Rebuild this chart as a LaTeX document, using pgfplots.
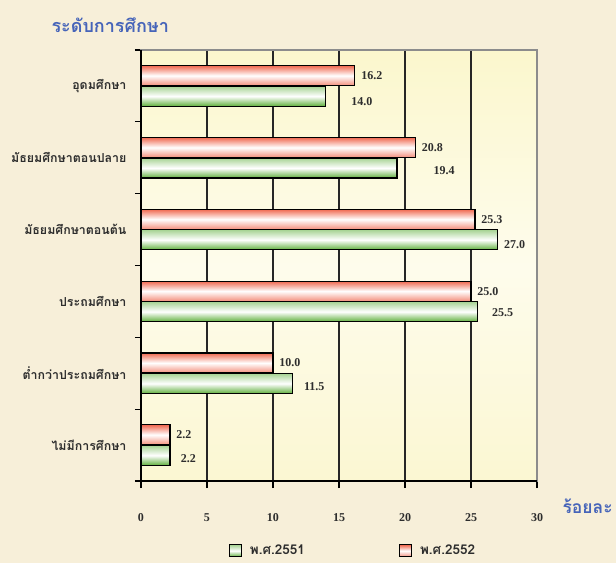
\documentclass[border=0pt]{standalone}
\usepackage{fontspec}
\setmainfont{Liberation Serif}
\newfontfamily\thai[Script=Thai]{Loma}
\usepackage{pgfplots}
\pgfplotsset{compat=1.18}
\definecolor{pagebg}{RGB}{247,239,217}
\definecolor{titleblue}{RGB}{70,100,185}
\definecolor{redbar}{RGB}{240,105,80}
\definecolor{greenbar}{RGB}{95,175,60}
\definecolor{areatop}{RGB}{251,247,205}
\definecolor{areamid}{RGB}{254,252,236}
\definecolor{areabot}{RGB}{251,247,210}
\definecolor{labgray}{RGB}{45,45,45}
\pgfplotsset{
  gbar/.style={draw=black, line width=1.2pt, top color=greenbar!55, bottom color=greenbar, middle color=white, bar shift=-10.3pt},
  rbar/.style={draw=black, line width=1.2pt, top color=redbar, bottom color=redbar!75, middle color=white, bar shift=10.3pt,
    nodes near coords style={xshift=2.5pt}},
}
\begin{document}
\begin{tikzpicture}[x=1pt,y=1pt]
\useasboundingbox (0,0) rectangle (616,563);
\fill[pagebg] (0,0) rectangle (616,563);
\node[anchor=west, text=titleblue, font=\thai\bfseries\fontsize{18}{20}\selectfont] at (48,538) {ระดับการศึกษา};
\node[anchor=west, text=titleblue, font=\thai\bfseries\fontsize{17.5}{20}\selectfont] at (559,57) {ร้อยละ};
\begin{axis}[
  at={(141pt,82pt)}, anchor=south west,
  scale only axis, width=396pt, height=431pt,
  xmin=0, xmax=30, ymin=-0.5, ymax=5.5,
  xtick={0,5,...,30},
  ytick={0,1,2,3,4,5},
  yticklabels={{ไม่มีการศึกษา},{ต่ำกว่าประถมศึกษา},{ประถมศึกษา},{มัธยมศึกษาตอนต้น},{มัธยมศึกษาตอนปลาย},{อุดมศึกษา}},
  yticklabel style={font=\thai\bfseries\fontsize{12.4}{14}\selectfont, text=labgray, xshift=-4pt},
  minor ytick={-0.5,0.5,...,5.5},
  major y tick style={draw=none},
  minor tick length=6pt,
  major tick length=7pt,
  tick align=outside,
  xtick pos=bottom, ytick pos=left,
  tick style={black, line width=1.2pt},
  /pgf/number format/assume math mode=true,
  xticklabel style={font=\bfseries\fontsize{12}{14}\selectfont, text=labgray, yshift=-22pt},
  xmajorgrids, grid style={black!85, line width=1.3pt},
  axis line style={black!45, line width=1.3pt},
  axis background/.style={top color=areatop, bottom color=areabot, middle color=areamid},
  clip=false,
  xbar, bar width=20pt,
  point meta=x,
  nodes near coords={\pgfmathprintnumber[fixed,fixed zerofill,precision=1]{\pgfplotspointmeta}},
  nodes near coords style={font=\bfseries\fontsize{12}{14}\selectfont, text=labgray, anchor=west},
  legend columns=2,
  legend style={at={(0.535,-0.162)}, anchor=center, draw=none, fill=none,
    font=\thai\bfseries\fontsize{13.5}{15}\selectfont, text=labgray,
    /tikz/every even column/.append style={column sep=92pt}},
  legend image code/.code={\draw[#1, line width=1.2pt] (0pt,-6pt) rectangle (12pt,6pt); \path (18pt,0pt);},
]
% green: 2551 (lower bar), red: 2552 (upper bar)
\addplot[gbar, nodes near coords style={xshift=7pt, yshift=-3pt}] coordinates {(2.2,0)};
\addplot[rbar] coordinates {(2.2,0)};
\addplot[gbar, forget plot, nodes near coords style={xshift=7.4pt, yshift=-3pt}] coordinates {(11.5,1)};
\addplot[gbar, forget plot, nodes near coords style={xshift=10.7pt, yshift=-1pt}] coordinates {(25.5,2)};
\addplot[gbar, forget plot, nodes near coords style={xshift=2.7pt, yshift=-5pt}] coordinates {(27.0,3)};
\addplot[gbar, forget plot, nodes near coords style={xshift=32.7pt, yshift=-3pt}] coordinates {(19.4,4)};
\addplot[gbar, forget plot, nodes near coords style={xshift=21.7pt, yshift=-5pt}] coordinates {(14.0,5)};
\addplot[rbar, forget plot] coordinates {(10.0,1)};
\addplot[rbar, forget plot] coordinates {(25.0,2)};
\addplot[rbar, forget plot] coordinates {(25.3,3)};
\addplot[rbar, forget plot] coordinates {(20.8,4)};
\addplot[rbar, forget plot] coordinates {(16.2,5)};
\legend{พ.ศ.2551, พ.ศ.2552}
\draw[black, line width=1.3pt] (rel axis cs:0,1) -- (rel axis cs:0,0) -- (rel axis cs:1,0);
\end{axis}
\end{tikzpicture}
\end{document}
